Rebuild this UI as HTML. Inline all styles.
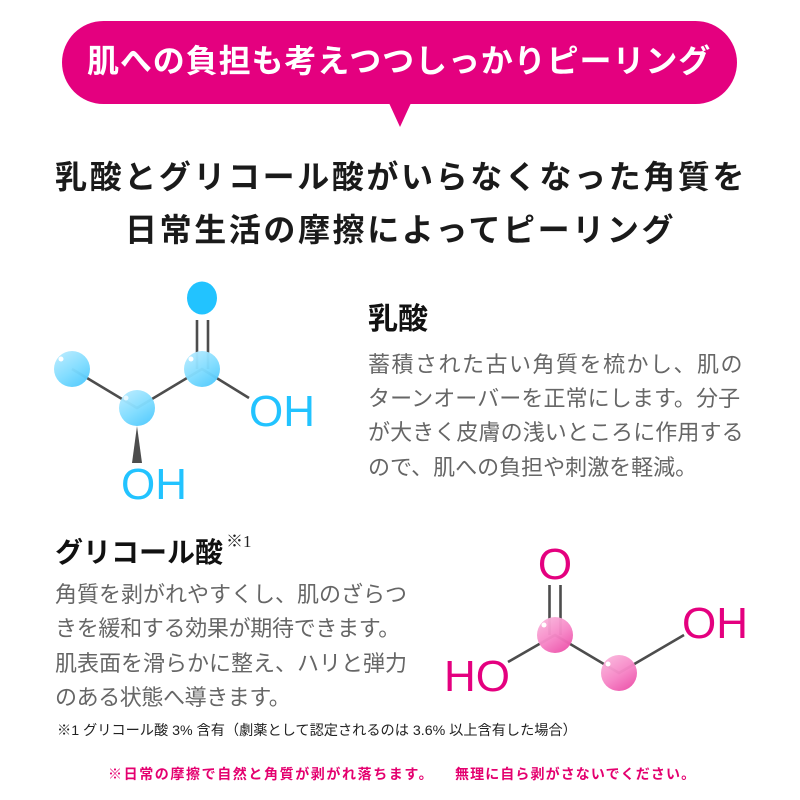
<!DOCTYPE html>
<html lang="ja"><head><meta charset="utf-8"><style>
html,body{margin:0;padding:0;background:#fff}
#p{position:relative;width:800px;height:800px;overflow:hidden;background:#fff;font-family:"Liberation Sans","Noto Sans CJK JP",sans-serif}
#p div{position:absolute;white-space:nowrap;line-height:1}
svg{position:absolute;left:0;top:0}
.h{font-size:32px;font-weight:700;color:#1a1a1a;letter-spacing:2.6px}
.b{font-size:22px;color:#666;font-weight:400}
.c{font-size:22px;color:#666;font-weight:400}
.t{font-weight:700;color:#111}
.r{font-size:14px;font-weight:700;color:#e4006f}
</style></head><body><div id="p">
<svg width="800" height="800" viewBox="0 0 800 800">
<defs>
<linearGradient id="bg" x1=".15" y1="0" x2=".8" y2="1"><stop offset="0" stop-color="#b8ebff"/><stop offset=".55" stop-color="#7fdcff"/><stop offset="1" stop-color="#4fc9fd"/></linearGradient>
<linearGradient id="pg" x1=".15" y1="0" x2=".8" y2="1"><stop offset="0" stop-color="#fab8dd"/><stop offset=".55" stop-color="#f685c6"/><stop offset="1" stop-color="#ec4fa8"/></linearGradient>
</defs>
<rect x="62" y="21" width="675" height="83" rx="41.5" fill="#e4007f"/>
<polygon points="389,103 411,103 400,127" fill="#e4007f"/>
<g stroke="#4d4d4d" stroke-width="2.6" fill="none">
<path d="M72 369L137 408L202 369L249 398"/><path d="M197 320V369M208 320V369"/>
<path d="M508 662L555 635L619 673L684 635"/><path d="M549.500 585V635M560.500 585V635"/>
</g>
<g>
<circle cx="72" cy="369" r="18" fill="url(#bg)" fill-opacity=".96"/><circle cx="137" cy="408" r="18" fill="url(#bg)" fill-opacity=".96"/><circle cx="202" cy="369" r="18" fill="url(#bg)" fill-opacity=".96"/>
<circle cx="61" cy="359" r="2.500" fill="#fff"/><circle cx="126" cy="398" r="2.500" fill="#fff" opacity=".7"/><circle cx="191" cy="359" r="2.500" fill="#fff"/>
<ellipse cx="202" cy="298" rx="15" ry="16.500" fill="#22c3ff"/>
<polygon points="137,426 132,463 142,463" fill="#4d4d4d"/>
<circle cx="555" cy="635" r="18" fill="url(#pg)" fill-opacity=".96"/><circle cx="619" cy="673" r="18" fill="url(#pg)" fill-opacity=".96"/>
<circle cx="544" cy="625" r="2.500" fill="#fff"/><circle cx="608" cy="664" r="2.500" fill="#fff"/>
</g>
<g font-family="Liberation Sans" font-size="44">
<text x="249" y="426" fill="#22c3ff">OH</text><text x="121" y="499" fill="#22c3ff">OH</text>
<text x="555" y="579" fill="#e4007f" text-anchor="middle">O</text><text x="682" y="638" fill="#e4007f">OH</text><text x="444" y="691" fill="#e4007f">HO</text>
</g>
</svg>
<div style="left:87px;top:45px;font-size:32px;font-weight:700;color:#fff;letter-spacing:.9px">肌への負担も考えつつしっかりピーリング</div>
<div class="h" style="left:55px;top:161px">乳酸とグリコール酸がいらなくなった角質を</div>
<div class="h" style="left:125px;top:214px">日常生活の摩擦によってピーリング</div>
<div class="t" style="left:368px;top:305px;font-size:30px">乳酸</div>
<div class="b" style="left:368px;top:354px;letter-spacing:1.500px">蓄積された古い角質を梳かし、肌の</div>
<div class="b" style="left:368px;top:388px;letter-spacing:.1px">ターンオーバーを正常にします。分子</div>
<div class="b" style="left:368px;top:422px;letter-spacing:.1px">が大きく皮膚の浅いところに作用する</div>
<div class="b" style="left:368px;top:457px">ので、肌への負担や刺激を軽減。</div>
<div class="t" style="left:55px;top:539px;font-size:28px">グリコール酸</div>
<div style="left:226px;top:533px;font-size:17px;color:#222;font-family:'Liberation Serif','Noto Serif CJK SC',serif">※1</div>
<div class="c" style="left:55px;top:584px">角質を剥がれやすくし、肌のざらつ</div>
<div class="c" style="left:55px;top:618px;letter-spacing:-.3px">きを緩和する効果が期待できます。</div>
<div class="c" style="left:55px;top:653px">肌表面を滑らかに整え、ハリと弾力</div>
<div class="c" style="left:55px;top:687px;letter-spacing:-.4px">のある状態へ導きます。</div>
<div style="left:57px;top:724px;font-size:14.200px;color:#222">※1 グリコール酸 3% 含有（劇薬として認定されるのは 3.6% 以上含有した場合）</div>
<div class="r" style="left:108px;top:767px;letter-spacing:1.600px">※日常の摩擦で自然と角質が剥がれ落ちます。</div>
<div class="r" style="left:455px;top:767px;letter-spacing:1.100px">無理に自ら剥がさないでください。</div>
</div></body></html>
